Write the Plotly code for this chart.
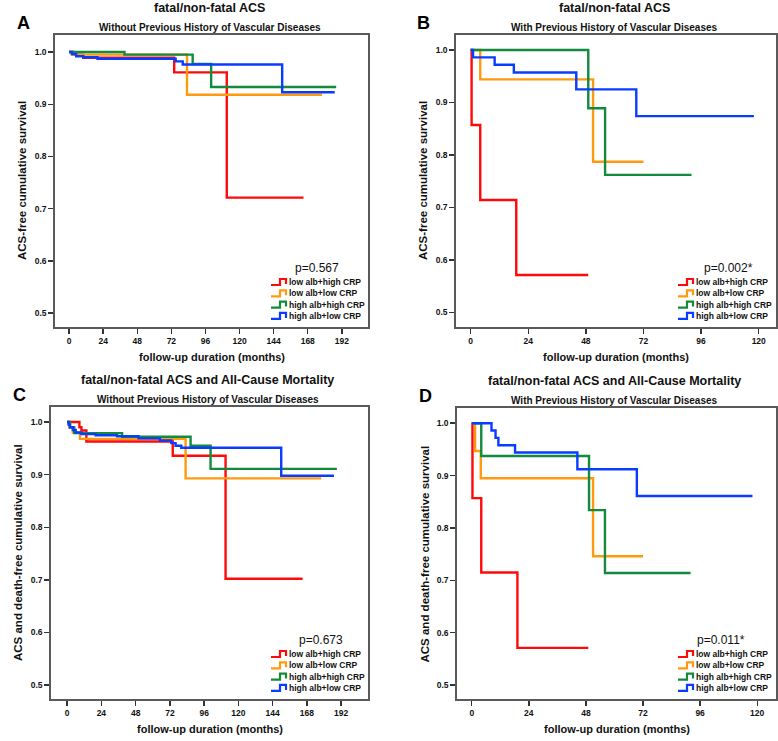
import plotly.graph_objects as go

# ---------------- data ----------------
groups = ["low alb+high CRP", "low alb+low CRP", "high alb+high CRP", "high alb+low CRP"]
colors = ["#FF0A0A", "#FF9A10", "#138A3E", "#0A3CFF"]

# Panel A: fatal/non-fatal ACS, without previous vascular disease
A_red_t = [0, 3, 10, 74, 111, 165]
A_red_s = [1.0, 0.995, 0.989, 0.961, 0.721, 0.721]
A_orange_t = [0, 2, 83, 178]
A_orange_s = [1.0, 0.995, 0.918, 0.918]
A_green_t = [0, 39, 87, 100, 188]
A_green_s = [1.0, 0.995, 0.977, 0.933, 0.933]
A_blue_t = [0, 2, 5, 10, 20, 75, 80, 150, 187]
A_blue_s = [1.0, 0.996, 0.992, 0.99, 0.987, 0.982, 0.976, 0.923, 0.923]

# Panel B: fatal/non-fatal ACS, with previous vascular disease
B_red_t = [0, 0.4, 4, 19, 49]
B_red_s = [1.0, 0.857, 0.714, 0.571, 0.571]
B_orange_t = [0, 4, 51, 72]
B_orange_s = [1.0, 0.944, 0.787, 0.787]
B_green_t = [0, 49, 56, 92]
B_green_s = [1.0, 0.889, 0.762, 0.762]
B_blue_t = [0, 1, 10, 18, 44, 69, 118]
B_blue_s = [1.0, 0.986, 0.972, 0.957, 0.925, 0.874, 0.874]

# Panel C: ACS and all-cause mortality, without previous vascular disease
C_red_t = [0, 8.6, 10, 13.5, 74, 111, 165]
C_red_s = [1.0, 0.99, 0.984, 0.963, 0.936, 0.702, 0.702]
C_orange_t = [0, 1.5, 4, 9, 83, 178]
C_orange_s = [1.0, 0.99, 0.98, 0.968, 0.893, 0.893]
C_green_t = [0, 2, 5, 38.5, 86.5, 100.5, 189]
C_green_s = [1.0, 0.99, 0.979, 0.972, 0.955, 0.911, 0.911]
C_blue_t = [0, 1, 2, 4, 6, 10, 20, 35, 50, 65, 73, 76, 80, 150, 187]
C_blue_s = [1.0, 0.995, 0.99, 0.985, 0.98, 0.977, 0.975, 0.973, 0.969, 0.965, 0.96, 0.955, 0.951, 0.898, 0.898]

# Panel D: ACS and all-cause mortality, with previous vascular disease
D_red_t = [0, 0.3, 4, 19.2, 49]
D_red_s = [1.0, 0.857, 0.715, 0.571, 0.571]
D_orange_t = [0, 1.4, 3.8, 51, 72]
D_orange_s = [1.0, 0.947, 0.895, 0.746, 0.746]
D_green_t = [0, 4, 49.3, 56, 92]
D_green_s = [1.0, 0.9375, 0.834, 0.714, 0.714]
D_blue_t = [0, 8.3, 10, 11.2, 18.2, 44.4, 69.4, 118]
D_blue_s = [1.0, 0.986, 0.972, 0.958, 0.944, 0.912, 0.861, 0.861]

y_ticks = [0.5, 0.6, 0.7, 0.8, 0.9, 1.0]
x_ticks_long = [0, 24, 48, 72, 96, 120, 144, 168, 192]
x_ticks_short = [0, 24, 48, 72, 96, 120]

p_values = ["p=0.567", "p=0.002*", "p=0.673", "p=0.011*"]
main_titles = ["fatal/non-fatal ACS", "fatal/non-fatal ACS",
               "fatal/non-fatal ACS and All-Cause Mortality",
               "fatal/non-fatal ACS and All-Cause Mortality"]
sub_titles = ["Without Previous History of Vascular Diseases",
              "With Previous History of Vascular Diseases",
              "Without Previous History of Vascular Diseases",
              "With Previous History of Vascular Diseases"]
y_titles = ["ACS-free cumulative survival", "ACS-free cumulative survival",
            "ACS and death-free cumulative survival", "ACS and death-free cumulative survival"]
x_title = "follow-up duration (months)"
letters = ["A", "B", "C", "D"]

# ---------------- layout geometry ----------------
W, H = 778, 741
FONT = "Arial, Liberation Sans, sans-serif"


def fx(px):
    return px / W


def fy(py):
    return 1 - py / H


# plot boxes in pixels (left, top, right, bottom)
boxes = [(55, 35, 368, 327), (456, 35, 776, 327), (51, 407, 368, 699), (457, 408, 776, 699)]
xranges = [[-9.9, 210.4], [-6.1, 127.2], [-11.3, 210.8], [-6.2, 127.9]]
yranges = [[0.4732, 1.0326], [0.472, 1.0286], [0.4735, 1.0286], [0.4735, 1.029]]
xtick_sets = [x_ticks_long, x_ticks_short, x_ticks_long, x_ticks_short]

series = [
    [(A_red_t, A_red_s), (A_orange_t, A_orange_s), (A_green_t, A_green_s), (A_blue_t, A_blue_s)],
    [(B_red_t, B_red_s), (B_orange_t, B_orange_s), (B_green_t, B_green_s), (B_blue_t, B_blue_s)],
    [(C_red_t, C_red_s), (C_orange_t, C_orange_s), (C_green_t, C_green_s), (C_blue_t, C_blue_s)],
    [(D_red_t, D_red_s), (D_orange_t, D_orange_s), (D_green_t, D_green_s), (D_blue_t, D_blue_s)],
]

fig = go.Figure()
layout = dict(
    width=W, height=H, margin=dict(l=0, r=0, t=0, b=0),
    paper_bgcolor="white", plot_bgcolor="white", showlegend=False,
    font=dict(family=FONT, color="#111"),
)

annotations = []
shapes = []

for i in range(4):
    ax = "" if i == 0 else str(i + 1)
    l, t, r, b = boxes[i]
    axis_common = dict(
        showline=True, mirror=True, linecolor="#5a5a5a", linewidth=1.8,
        showgrid=False, zeroline=False, ticks="outside", ticklen=5,
        tickwidth=1.4, tickcolor="#333",
        tickfont=dict(family=FONT, size=8.5, color="#111", weight="bold"),
    )
    layout["xaxis" + ax] = dict(
        axis_common, domain=[fx(l), fx(r)], range=xranges[i],
        tickvals=xtick_sets[i], anchor="y" + ax,
    )
    layout["yaxis" + ax] = dict(
        axis_common, domain=[fy(b), fy(t)], range=yranges[i],
        tickvals=y_ticks, tickformat=".1f", anchor="x" + ax,
    )
    for g in range(4):
        tt, ss = series[i][g]
        fig.add_trace(go.Scatter(
            x=tt, y=ss, mode="lines", line=dict(color=colors[g], width=2.4, shape="hv"),
            name=groups[g], xaxis="x" + ax, yaxis="y" + ax, hoverinfo="skip",
        ))

    cx = (l + r) / 2
    # main title and subtitle
    annotations.append(dict(text="<b>" + main_titles[i] + "</b>", x=fx(cx - 2), y=fy(t - 27),
                            xref="paper", yref="paper", showarrow=False, xanchor="center",
                            yanchor="middle", font=dict(family=FONT, size=12.5, color="#111")))
    annotations.append(dict(text="<b>" + sub_titles[i] + "</b>", x=fx(cx - 2), y=fy(t - 8),
                            xref="paper", yref="paper", showarrow=False, xanchor="center",
                            yanchor="middle", font=dict(family=FONT, size=10, color="#111")))
    # letter
    annotations.append(dict(text="<b>" + letters[i] + "</b>", x=fx(l - 32), y=fy(t - 12),
                            xref="paper", yref="paper", showarrow=False, xanchor="center",
                            yanchor="middle", font=dict(family=FONT, size=18, color="#000")))
    # axis titles
    annotations.append(dict(text="<b>" + x_title + "</b>", x=fx(cx - 0), y=fy(b + 30),
                            xref="paper", yref="paper", showarrow=False, xanchor="center",
                            yanchor="middle", font=dict(family=FONT, size=11, color="#111")))
    annotations.append(dict(text="<b>" + y_titles[i] + "</b>", x=fx(l - 33), y=fy((t + b) / 2),
                            xref="paper", yref="paper", showarrow=False, xanchor="center",
                            yanchor="middle", textangle=-90,
                            font=dict(family=FONT, size=11.5, color="#111")))
    # p-value and legend
    leg_x0 = r - 97 if i % 2 == 0 else r - 98
    row0 = b - 45
    p_cx = [317, 728, 321, 721][i]
    annotations.append(dict(text=p_values[i], x=fx(p_cx), y=fy(row0 - 14),
                            xref="paper", yref="paper", showarrow=False, xanchor="center",
                            yanchor="middle", font=dict(family=FONT, size=12, color="#111")))
    for g in range(4):
        yc = row0 + g * 11.3
        x0 = leg_x0
        x1 = x0 + 15
        path = "M {:.5f},{:.5f} L {:.5f},{:.5f} L {:.5f},{:.5f} L {:.5f},{:.5f} L {:.5f},{:.5f}".format(
            fx(x0), fy(yc + 3), fx(x0 + 9), fy(yc + 3), fx(x0 + 9), fy(yc - 3),
            fx(x1), fy(yc - 3), fx(x1), fy(yc + 2))
        shapes.append(dict(type="path", path=path, xref="paper", yref="paper",
                           line=dict(color=colors[g], width=2.2)))
        annotations.append(dict(text="<b>" + groups[g] + "</b>", x=fx(x1 + 1), y=fy(yc),
                                xref="paper", yref="paper", showarrow=False, xanchor="left",
                                yanchor="middle", font=dict(family=FONT, size=8.5, color="#111")))

layout["annotations"] = annotations
layout["shapes"] = shapes
fig.update_layout(**layout)
fig.write_html(
    "out.html",
    config={"displayModeBar": False, "staticPlot": True},
    post_script=("document.documentElement.style.margin='0';"
                 "document.body.style.margin='0';"
                 "document.documentElement.style.overflow='hidden';"
                 "document.body.style.overflow='hidden';"),
)
